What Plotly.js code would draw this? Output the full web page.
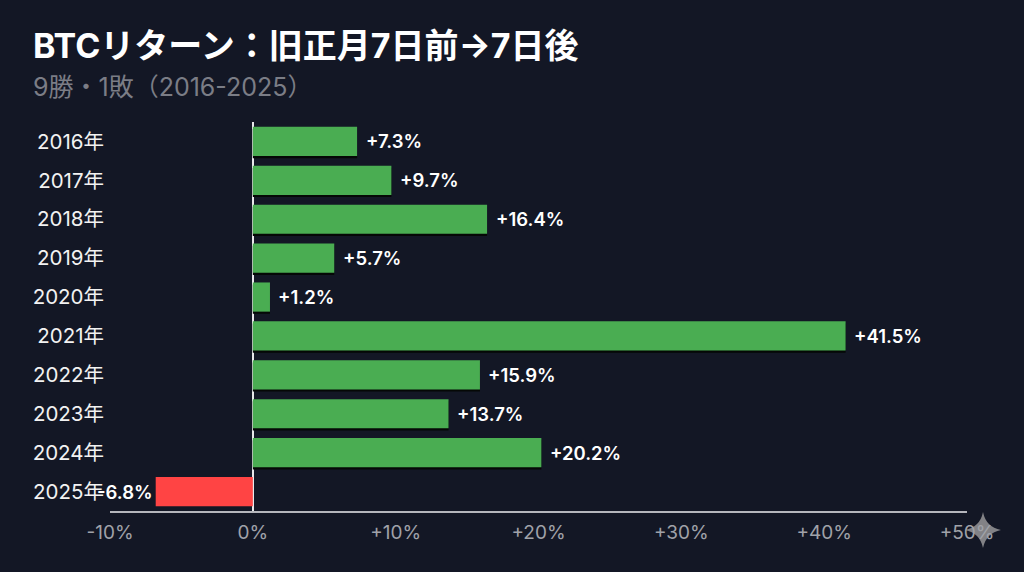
<!DOCTYPE html>
<html><head><meta charset="utf-8">
<script src="https://cdn.plot.ly/plotly-3.0.1.min.js"></script>
<style>html,body{margin:0;padding:0;background:#131725}#c{width:1024px;height:572px}</style>
</head><body><div id="c"></div>
<script>
const years = ["2016年","2017年","2018年","2019年","2020年","2021年","2022年","2023年","2024年","2025年"];
const returns = [7.3,9.7,16.4,5.7,1.2,41.5,15.9,13.7,20.2,-6.8];
const labels = ["+7.3%","+9.7%","+16.4%","+5.7%","+1.2%","+41.5%","+15.9%","+13.7%","+20.2%","-6.8%"];
const xTicks = [-10,0,10,20,30,40,50];
const xTickLabels = ["-10%","0%","+10%","+20%","+30%","+40%","+50%"];
const GREEN="#4aad52", RED="#ff4444";
const FONT='Inter,"Noto Sans CJK JP","Noto Sans",sans-serif';
const L=110,R=967,T=121.5,B=511;
const shadow={type:"bar",orientation:"h",y:years,x:returns,width:0.75,offset:-0.32,
  marker:{color:returns.map(v=>v>=0?"#050806":"rgba(0,0,0,0)"),line:{width:0}},hoverinfo:"skip",showlegend:false};
const bars={type:"bar",orientation:"h",y:years,x:returns,width:0.75,offset:-0.375,
  marker:{color:returns.map(v=>v>=0?GREEN:RED),line:{width:0}},showlegend:false};
const valueNotes=returns.map((v,i)=>({x:v,y:years[i],xref:"x",yref:"y",text:labels[i],showarrow:false,
  xanchor:v>=0?"left":"right",xshift:v>=0?7.5:-2,yanchor:"middle",borderpad:0,
  font:{family:FONT,size:18.5,color:"#ffffff",weight:600}}));
const layout={
  width:1024,height:572,paper_bgcolor:"#131725",plot_bgcolor:"#131725",
  margin:{l:L,r:1024-R,t:T,b:572-B,pad:0},barmode:"overlay",
  title:{text:"<b>BTCリターン：旧正月7日前→7日後</b>",x:33/1024,xanchor:"left",xref:"container",y:1-46.5/572,yanchor:"middle",
    font:{family:FONT,size:34,color:"#ffffff"}},
  xaxis:{range:[-10,50],tickvals:xTicks,ticktext:xTickLabels,showgrid:false,zeroline:true,zerolinecolor:"#e8e8ea",zerolinewidth:1.5,
    showline:true,linecolor:"#b5b6bc",linewidth:1.5,ticks:"",tickfont:{family:FONT,size:19,color:"#a0a2a9"},ticklabelstandoff:4,fixedrange:true},
  yaxis:{autorange:"reversed",showgrid:false,zeroline:false,showline:false,ticks:"",ticklabelstandoff:5,
    tickfont:{family:FONT,size:20.5,color:"#f2f2f2"},fixedrange:true},
  annotations:valueNotes.concat([{text:"9勝・1敗（2016-2025）",xref:"paper",yref:"paper",x:(31-L)/(R-L),xanchor:"left",y:1+(T-86)/(B-T),yanchor:"middle",
    showarrow:false,font:{family:FONT,size:25,color:"#7b7d86"}}]),
  shapes:[{type:"path",layer:"below",xref:"paper",yref:"paper",xsizemode:"pixel",ysizemode:"pixel",xanchor:(983-L)/(R-L),yanchor:1-(530-T)/(B-T),
    path:"M 0 18 Q 3 3 18 0 Q 3 -3 0 -18 Q -3 -3 -18 0 Q -3 3 0 18 Z",fillcolor:"#828286",line:{width:0}}]
};
Plotly.newPlot("c",[shadow,bars],layout,{displayModeBar:false,staticPlot:true});
</script></body></html>
